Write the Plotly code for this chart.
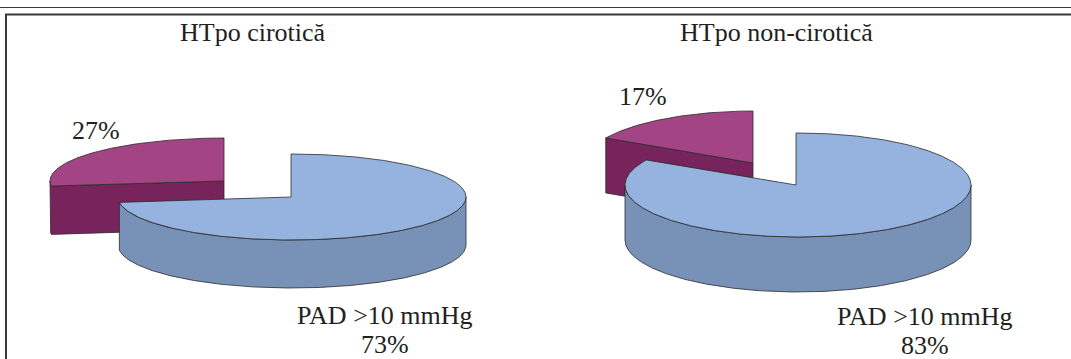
import numpy as np
import plotly.graph_objects as go

# Data
panel_titles = ["HTpo cirotică", "HTpo non-cirotică"]
categories = ["PAD >10 mmHg", "PAD <10 mmHg"]
shares_cirotica = [73, 27]
shares_non_cirotica = [83, 17]

# Drawing style
BLUE_TOP, BLUE_SIDE = "#95B3DE", "#7792B6"
PURPLE_TOP, PURPLE_SIDE = "#A34584", "#78245C"
EDGE = "#2b2b2b"
TEXT = "#231f20"
FONT = "Liberation Serif"
W, H = 1071, 359

pies = [
    dict(shares=shares_cirotica, main=(292, 197), apex_x=291, off=(224, 181), rx=174, off_rx=174, ry=43, depth=48),
    dict(shares=shares_non_cirotica, main=(798, 185), apex_x=796, off=(753, 163), rx=173, off_rx=168, ry=52, depth=55),
]


def rim(c, rx, ry, a0, a1, dy=0):
    t = np.radians(np.linspace(a0, a1, max(int(abs(a1 - a0)) * 2, 2)))
    return c[0] + rx * np.sin(t), c[1] - ry * np.cos(t) + dy


def poly(fig, x, y, fill, name):
    fig.add_trace(go.Scatter(
        x=list(x), y=list(y), mode="lines", fill="toself", fillcolor=fill,
        line=dict(color=EDGE, width=0.8), name=name, hoverinfo="name", showlegend=False,
    ))


def draw_pie(fig, p):
    main_share, off_share = p["shares"]
    rx, ry, d = p["rx"], p["ry"], p["depth"]
    split = 360 * main_share / (main_share + off_share)

    # detached slice: cut face and outer wall as one outline, then top
    c, orx = p["off"], p["off_rx"]
    wall_end = max(split, 270)
    ax, ay = rim(c, orx, ry, split, wall_end)
    bx, by = rim(c, orx, ry, wall_end, split, d)
    poly(fig, np.r_[c[0], ax, bx, c[0], c[0]], np.r_[c[1], ay, by, c[1] + d, c[1]], PURPLE_SIDE, categories[1])
    ax, ay = rim(c, orx, ry, split, 360)
    poly(fig, np.r_[c[0], ax, c[0]], np.r_[c[1], ay, c[1]], PURPLE_TOP, categories[1])

    # main slice: outer wall, top
    c = p["main"]
    a_end = min(split, 270)
    ax, ay = rim(c, rx, ry, 90, a_end)
    bx, by = rim(c, rx, ry, a_end, 90, d)
    poly(fig, np.r_[ax, bx, ax[0]], np.r_[ay, by, ay[0]], BLUE_SIDE, categories[0])
    ax, ay = rim(c, rx, ry, 0, split)
    poly(fig, np.r_[p["apex_x"], p["apex_x"], ax, p["apex_x"]], np.r_[c[1], ay[0], ay, c[1]], BLUE_TOP, categories[0])


fig = go.Figure()
for p in pies:
    draw_pie(fig, p)


def label(x, y, text, size=26):
    return dict(x=x, y=y, xref="x", yref="y", text=text, showarrow=False,
                font=dict(family=FONT, size=size, color=TEXT), xanchor="center", yanchor="middle")


annotations = [
    label(253, 32, panel_titles[0]),
    label(776, 32, panel_titles[1]),
    label(96, 130, f"{shares_cirotica[1]}%"),
    label(643, 96, f"{shares_non_cirotica[1]}%"),
    label(385, 315, categories[0]),
    label(385, 344, f"{shares_cirotica[0]}%"),
    label(925, 316, categories[0]),
    label(925, 345, f"{shares_non_cirotica[0]}%"),
]

shapes = [
    dict(type="line", x0=0, x1=W, y0=7.5, y1=7.5, xref="x", yref="y", line=dict(color="#3a3a3a", width=1)),
    dict(type="line", x0=5, x1=W, y0=14.5, y1=14.5, xref="x", yref="y", line=dict(color="#3a3a3a", width=2)),
    dict(type="line", x0=6, x1=6, y0=14, y1=H, xref="x", yref="y", line=dict(color="#3a3a3a", width=2)),
]

fig.update_layout(
    width=W, height=H, margin=dict(l=0, r=0, t=0, b=0),
    paper_bgcolor="white", plot_bgcolor="white", showlegend=False,
    xaxis=dict(range=[0, W], visible=False, fixedrange=True),
    yaxis=dict(range=[H, 0], visible=False, fixedrange=True),
    annotations=annotations, shapes=shapes,
)
fig.write_html(
    "out.html",
    config={"displayModeBar": False},
    post_script="document.body.style.margin='0';document.body.style.overflow='hidden';",
)
